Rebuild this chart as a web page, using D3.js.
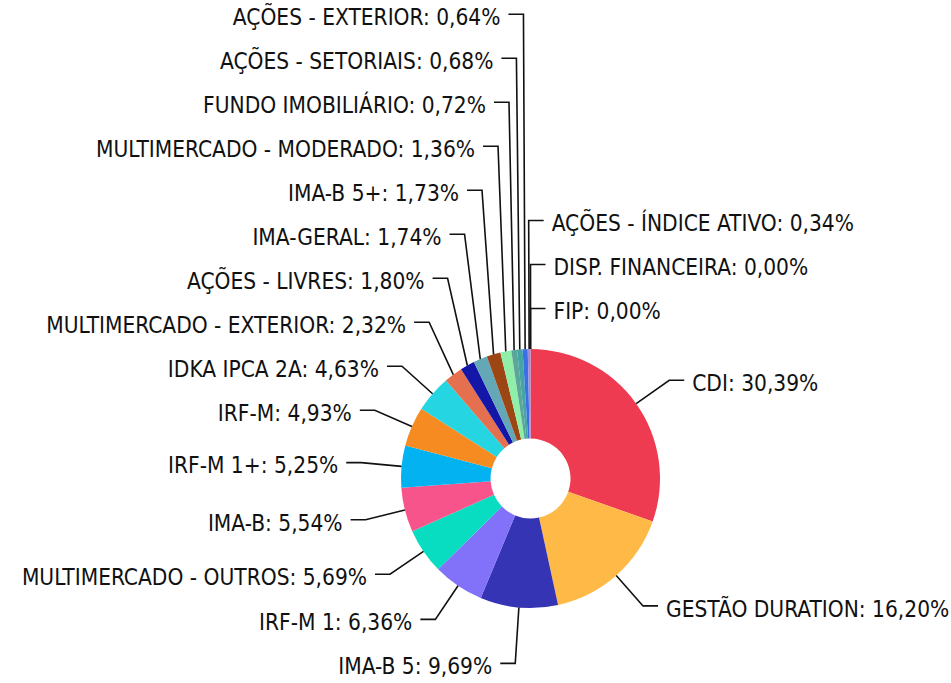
<!DOCTYPE html>
<html>
<head>
<meta charset="utf-8">
<script src="https://cdn.jsdelivr.net/npm/d3@7"></script>
<style>
  body { margin: 0; background: #fff; }
  text { font-family: "DejaVu Sans Condensed", "DejaVu Sans", sans-serif; font-stretch: condensed; }
</style>
</head>
<body>
<div id="chart"></div>
<script>
// data, clockwise from 12 o'clock
var categories = [
  "CDI", "GESTÃO DURATION", "IMA-B 5", "IRF-M 1", "MULTIMERCADO - OUTROS",
  "IMA-B", "IRF-M 1+", "IRF-M", "IDKA IPCA 2A", "MULTIMERCADO - EXTERIOR",
  "AÇÕES - LIVRES", "IMA-GERAL", "IMA-B 5+", "MULTIMERCADO - MODERADO", "FUNDO IMOBILIÁRIO",
  "AÇÕES - SETORIAIS", "AÇÕES - EXTERIOR", "AÇÕES - ÍNDICE ATIVO", "DISP. FINANCEIRA", "FIP"
];
var values = [
  30.39, 16.20, 9.69, 6.36, 5.69,
  5.54, 5.25, 4.93, 4.63, 2.32,
  1.80, 1.74, 1.73, 1.36, 0.72,
  0.68, 0.64, 0.34, 0.00, 0.00
];
var colors = [
  "#ee3b51", "#ffb946", "#3534b5", "#8271f9", "#08ddc1",
  "#f7548c", "#02b2f1", "#f68b21", "#25d5e2", "#e4704f",
  "#1416a8", "#64a7b6", "#9c4614", "#8fefa9", "#5ba59a",
  "#43a6a3", "#3c6fe6", "#a08fd8", "#999999", "#999999"
];

var width = 951, height = 683;
var cx = 530.5, cy = 478.5;
var outerR = 129.5, innerR = 40;
var elbowR = 170, len2 = 15, gap = 8, spacing = 44;

var svg = d3.select("#chart").append("svg")
    .attr("width", width)
    .attr("height", height);

var g = svg.append("g")
    .attr("transform", `translate(${cx},${cy})`);

var dataArray = categories.map((c, i) => ({ name: c, value: values[i], color: colors[i] }));

var pie = d3.pie().sort(null).value(d => d.value);
var arcs = pie(dataArray);
var arc = d3.arc().innerRadius(innerR).outerRadius(outerR);

g.selectAll("path.slice")
  .data(arcs)
  .join("path")
    .attr("class", "slice")
    .attr("d", arc)
    .attr("fill", d => d.data.color);

// label anchors
var fmt = v => v.toFixed(2).replace(".", ",") + "%";
var labels = arcs.map(d => {
  var a = (d.startAngle + d.endAngle) / 2;
  var s = Math.sin(a), c = Math.cos(a);
  // near-vertical labels go to the right
  var side = s < -0.02 ? -1 : 1;
  var t = side > 0 ? (a > Math.PI ? a - 2 * Math.PI : a) : 2 * Math.PI - a;
  return {
    d: d, side: side, t: t,
    ox: outerR * s, oy: -outerR * c,
    ex: elbowR * s, ty: -elbowR * c, y: -elbowR * c
  };
});

// push labels apart, away from the horizontal middle
[-1, 1].forEach(side => {
  var items = labels.filter(l => l.side === side);
  var upper = items.filter(l => l.ty < 0)
      .sort((p, q) => (q.t - p.t) || (q.d.index - p.d.index));
  var lower = items.filter(l => l.ty >= 0)
      .sort((p, q) => (p.t - q.t) || (p.d.index - q.d.index));
  var prev = Infinity;
  upper.forEach(l => { l.y = Math.min(l.ty, prev - spacing); prev = l.y; });
  prev = -Infinity;
  lower.forEach(l => { l.y = Math.max(l.ty, prev + spacing); prev = l.y; });
});

g.selectAll("polyline.leader")
  .data(labels)
  .join("polyline")
    .attr("class", "leader")
    .attr("fill", "none")
    .attr("stroke", "#111")
    .attr("stroke-width", 1.6)
    .attr("points", l => [
      [l.ox, l.oy],
      [l.ex, l.y],
      [l.ex + l.side * len2, l.y]
    ].join(" "));

g.selectAll("text.label")
  .data(labels)
  .join("text")
    .attr("class", "label")
    .attr("x", l => l.ex + l.side * (len2 + gap))
    .attr("y", l => l.y)
    .attr("dy", "0.48em")
    .attr("text-anchor", l => l.side < 0 ? "end" : "start")
    .attr("font-size", "22.5px")
    .attr("fill", "#111")
    .text(l => l.d.data.name + ": " + fmt(l.d.data.value));
</script>
</body>
</html>
